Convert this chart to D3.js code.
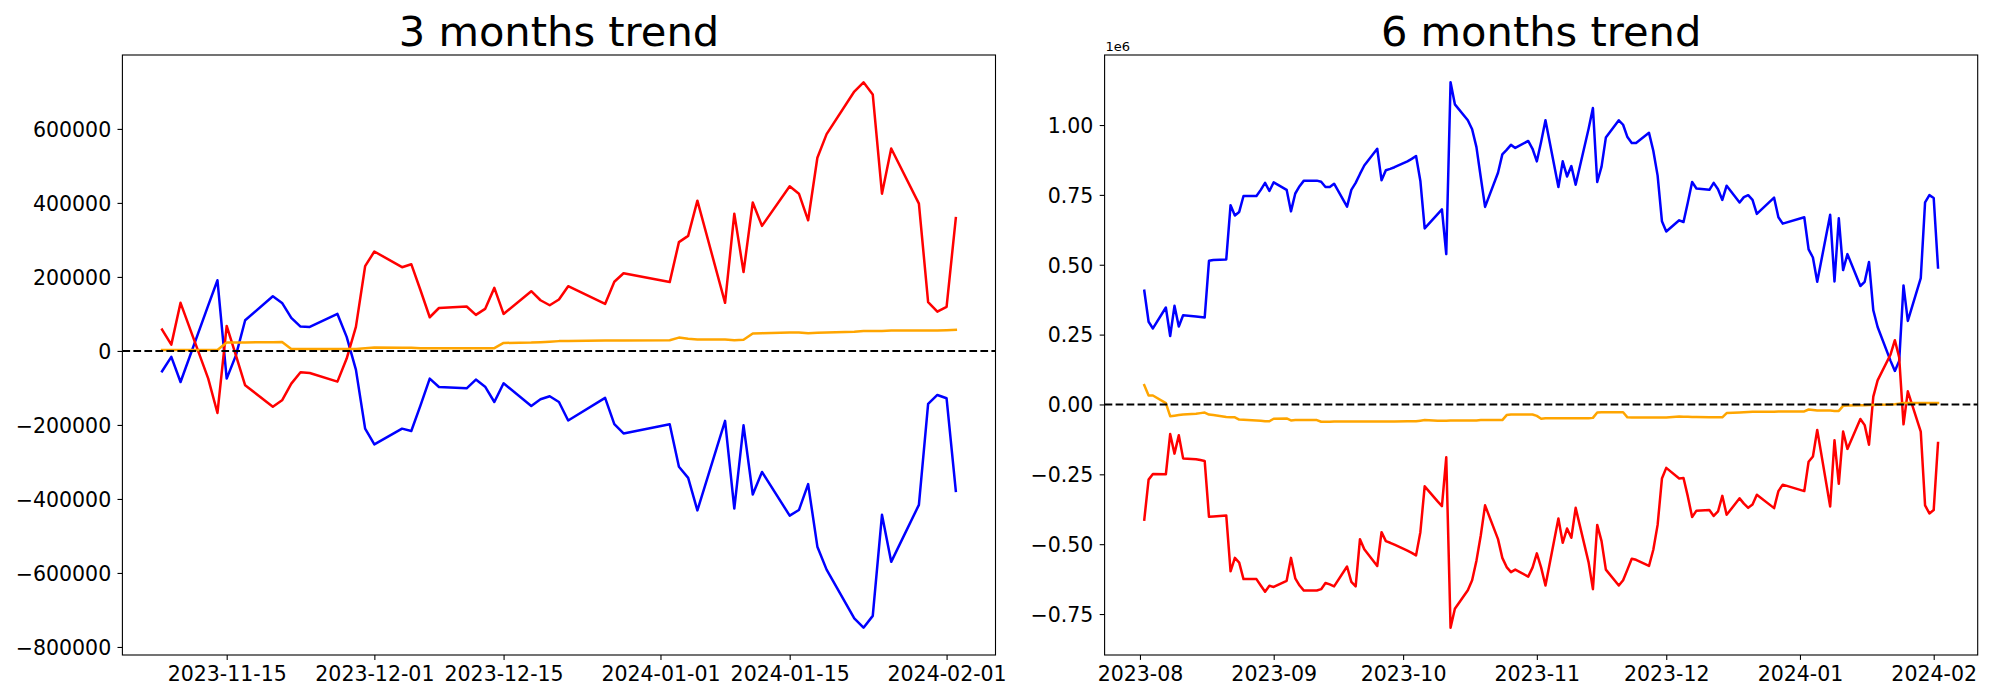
<!DOCTYPE html>
<html>
<head>
<meta charset="utf-8">
<script src="https://cdn.jsdelivr.net/npm/d3@7"></script>
<style>
body { margin: 0; background: #fff; }
svg { display: block; }
text { font-family: "DejaVu Sans", sans-serif; fill: #000; }
</style>
</head>
<body>
<svg id="chart" width="2000" height="700"></svg>
<script>
// ---------- 3 months data ----------
const dates3m = [
  "2023-11-08","2023-11-09","2023-11-10","2023-11-13","2023-11-14","2023-11-15","2023-11-16","2023-11-17",
  "2023-11-20","2023-11-21","2023-11-22","2023-11-23","2023-11-24","2023-11-27","2023-11-28","2023-11-29","2023-11-30",
  "2023-12-01","2023-12-04","2023-12-05","2023-12-06","2023-12-07","2023-12-08","2023-12-11","2023-12-12","2023-12-13",
  "2023-12-14","2023-12-15","2023-12-18","2023-12-19","2023-12-20","2023-12-21","2023-12-22","2023-12-26","2023-12-27","2023-12-28",
  "2024-01-02","2024-01-03","2024-01-04","2024-01-05","2024-01-08","2024-01-09","2024-01-10","2024-01-11","2024-01-12",
  "2024-01-15","2024-01-16","2024-01-17","2024-01-18","2024-01-19","2024-01-22","2024-01-23","2024-01-24","2024-01-25","2024-01-26",
  "2024-01-29","2024-01-30","2024-01-31","2024-02-01","2024-02-02"
];
const blue3m = [
  -55000,-16200,-83900,123000,191000,-74800,-12000,83000,147900,129800,89300,65800,65000,100000,37900,-50500,-210000,
  -252500,-210000,-216400,-147000,-74800,-97400,-101000,-77500,-96500,-138000,-87500,-148800,-130700,-122600,-138000,-188000,-127000,-198000,-223000,
  -198000,-313000,-343000,-431000,-189000,-426000,-201000,-388000,-327000,-445000,-430000,-360000,-529000,-591000,-723000,-748000,-716000,-443000,-570000,-416000,-143000,-119000,
  -128000,-378000
];
const red3m = [
  57700,17000,130000,-74800,-167700,67600,-12000,-92900,-150600,-133500,-88400,-57700,-59500,-83000,-20700,65000,229000,
  268700,226300,234400,164000,91000,116000,120000,97400,113600,170400,100000,161400,137000,123500,139000,175000,127000,187000,210000,
  186000,294000,311000,406000,130000,371000,213000,401000,338000,445000,425000,353000,522000,586000,701000,726000,693000,425000,547000,398000,132000,106000,
  119000,359000
];
const orange3m = [
  2700,2700,2700,2700,2700,22500,23000,23000,23500,24300,5400,5000,5000,5000,5000,5000,7000,
  9000,8500,8500,7000,7000,7500,7500,7500,7500,7500,21600,22500,23500,25000,26500,27000,28000,28000,28000,
  29000,36000,33000,31000,31000,29000,30000,47000,48000,50000,50000,48000,49000,50000,52000,54000,54000,54000,55000,55000,55000,55000,
  56000,57000
];
const xTicks3m = ["2023-11-15","2023-12-01","2023-12-15","2024-01-01","2024-01-15","2024-02-01"];
const yTicks3m = [-800000,-600000,-400000,-200000,0,200000,400000,600000];

// ---------- 6 months data ----------
const dates6m = [
  "2023-08-02","2023-08-03","2023-08-04","2023-08-07","2023-08-08","2023-08-09","2023-08-10","2023-08-11","2023-08-14","2023-08-15","2023-08-16",
  "2023-08-17","2023-08-18","2023-08-21","2023-08-22","2023-08-23","2023-08-24","2023-08-25","2023-08-28","2023-08-29","2023-08-30","2023-08-31",
  "2023-09-01","2023-09-04","2023-09-05","2023-09-06","2023-09-07","2023-09-08","2023-09-11","2023-09-12","2023-09-13","2023-09-14","2023-09-15",
  "2023-09-18","2023-09-19","2023-09-20","2023-09-21","2023-09-22","2023-09-25","2023-09-26","2023-09-27","2023-09-28","2023-09-29",
  "2023-10-02","2023-10-03","2023-10-04","2023-10-05","2023-10-06","2023-10-09","2023-10-10","2023-10-11","2023-10-12","2023-10-13","2023-10-16",
  "2023-10-17","2023-10-18","2023-10-19","2023-10-20","2023-10-23","2023-10-24","2023-10-25","2023-10-26","2023-10-27","2023-10-30","2023-10-31",
  "2023-11-01","2023-11-02","2023-11-03","2023-11-06","2023-11-07","2023-11-08","2023-11-09","2023-11-10","2023-11-13","2023-11-14","2023-11-15",
  "2023-11-16","2023-11-17","2023-11-20","2023-11-21","2023-11-22","2023-11-23","2023-11-24","2023-11-27","2023-11-28","2023-11-29","2023-11-30",
  "2023-12-01","2023-12-04","2023-12-05","2023-12-06","2023-12-07","2023-12-08","2023-12-11","2023-12-12","2023-12-13","2023-12-14","2023-12-15",
  "2023-12-18","2023-12-19","2023-12-20","2023-12-21","2023-12-22","2023-12-26","2023-12-27","2023-12-28",
  "2024-01-02","2024-01-03","2024-01-04","2024-01-05","2024-01-08","2024-01-09","2024-01-10","2024-01-11","2024-01-12","2024-01-15","2024-01-16",
  "2024-01-17","2024-01-18","2024-01-19","2024-01-22","2024-01-23","2024-01-24","2024-01-25","2024-01-26","2024-01-29","2024-01-30","2024-01-31",
  "2024-02-01","2024-02-02"
];
const blue6m = [
  407000,296000,272000,347000,245000,353000,279000,319000,315000,313000,311000,514000,517000,519000,713000,676000,689000,746000,746000,768000,793000,764000,
  795000,768000,691000,755000,781000,801000,801000,797000,778000,778000,790000,708000,768000,793000,825000,855000,915000,802000,838000,843000,849000,
  870000,879000,889000,800000,630000,681000,698000,538000,1153000,1074000,1017000,985000,921000,813000,707000,829000,895000,911000,929000,918000,943000,915000,
  870000,940000,1017000,778000,870000,816000,853000,786000,987000,1061000,796000,851000,955000,1017000,1001000,957000,936000,936000,972000,908000,819000,656000,
  619000,659000,653000,723000,796000,773000,768000,793000,770000,732000,783000,723000,742000,749000,732000,682000,740000,670000,647000,
  670000,555000,526000,439000,679000,440000,666000,481000,538000,424000,439000,510000,337000,277000,156000,120000,156000,426000,299000,452000,723000,749000,
  739000,490000
];
const red6m = [
  -412000,-269000,-249000,-250000,-106000,-176000,-110000,-193000,-196000,-199000,-202000,-402000,-401000,-397000,-597000,-549000,-566000,-625000,-625000,-648000,-670000,-649000,
  -653000,-631000,-549000,-622000,-648000,-666000,-666000,-661000,-639000,-644000,-651000,-580000,-635000,-651000,-482000,-518000,-578000,-457000,-489000,-495000,-502000,
  -523000,-531000,-540000,-457000,-293000,-347000,-364000,-189000,-799000,-731000,-665000,-629000,-559000,-469000,-361000,-482000,-549000,-582000,-600000,-591000,-616000,-584000,
  -533000,-584000,-648000,-408000,-495000,-444000,-477000,-370000,-565000,-661000,-431000,-489000,-591000,-648000,-629000,-591000,-552000,-556000,-578000,-520000,-431000,-265000,
  -227000,-265000,-263000,-329000,-403000,-380000,-378000,-399000,-383000,-327000,-395000,-336000,-355000,-370000,-358000,-323000,-371000,-310000,-287000,
  -310000,-205000,-186000,-91000,-365000,-128000,-284000,-97000,-159000,-52000,-74000,-144000,28000,86000,179000,230000,168000,-71000,47000,-97000,-361000,-390000,
  -378000,-138000
];
const orange6m = [
  69000,32000,32000,5000,-42000,-40000,-38000,-36000,-33000,-31000,-29000,-36000,-38000,-45000,-46000,-46000,-54000,-55000,-57000,-58000,-60000,-60000,
  -51000,-50000,-57000,-56000,-56000,-56000,-56000,-62000,-62000,-62000,-61000,-61000,-61000,-61000,-61000,-61000,-61000,-61000,-61000,-61000,-61000,
  -60000,-60000,-60000,-58000,-56000,-58000,-58000,-58000,-57000,-57000,-57000,-57000,-57000,-56000,-56000,-56000,-56000,-38000,-36000,-36000,-36000,-36000,
  -41000,-51000,-49000,-49000,-49000,-49000,-49000,-49000,-49000,-48000,-29000,-28000,-28000,-28000,-28000,-46000,-47000,-47000,-47000,-47000,-47000,-47000,
  -47000,-43000,-44000,-44000,-45000,-45000,-46000,-46000,-46000,-46000,-31000,-29000,-28000,-27000,-26000,-26000,-26000,-25000,-25000,
  -25000,-18000,-20000,-22000,-22000,-23000,-23000,-5000,-4000,-3000,-3000,-2000,-2000,-1000,0,1000,3000,5000,5000,5000,5000,5000,
  5000,5000
];
const xTicks6m = ["2023-08-01","2023-09-01","2023-10-01","2023-11-01","2023-12-01","2024-01-01","2024-02-01"];
const yTicks6m = [-750000,-500000,-250000,0,250000,500000,750000,1000000];

const seriesColors = { blue: "#0000ff", red: "#ff0000", orange: "#ffa500" };

// ---------- drawing ----------
const parse = d3.utcParse("%Y-%m-%d");
const svg = d3.select("#chart");
const minus = s => s.replace("-", "\u2212");

function drawPanel(o) {
  const g = svg.append("g");
  const dts = o.dates.map(parse);
  const t0 = +dts[0], t1 = +dts[dts.length - 1];
  const xp = (t1 - t0) * 0.05;
  const x = d3.scaleUtc().domain([new Date(t0 - xp), new Date(t1 + xp)]).range([o.left, o.right]);
  const all = o.series.flatMap(s => s.values);
  const lo = d3.min(all), hi = d3.max(all);
  const yp = (hi - lo) * 0.05;
  const y = d3.scaleLinear().domain([lo - yp, hi + yp]).range([o.bottom, o.top]);

  // lines
  const line = d3.line().x((d, i) => x(dts[i])).y(d => y(d));
  o.series.forEach(s => {
    g.append("path").datum(s.values)
      .attr("d", line)
      .attr("fill", "none")
      .attr("stroke", s.color)
      .attr("stroke-width", 2.5)
      .attr("stroke-linejoin", "round")
      .attr("stroke-linecap", "square");
  });

  // zero dashed line
  g.append("line")
    .attr("x1", o.left).attr("x2", o.right)
    .attr("y1", y(0)).attr("y2", y(0))
    .attr("stroke", "#000").attr("stroke-width", 2.1)
    .attr("stroke-dasharray", "7.7,3.3");

  // axes
  const xa = g.append("g").attr("transform", `translate(0,${o.bottom})`)
    .call(d3.axisBottom(x).tickValues(o.xTicks.map(parse)).tickFormat(o.xFmt)
      .tickSize(4.9).tickPadding(6.3).tickSizeOuter(0));
  const ya = g.append("g").attr("transform", `translate(${o.left},0)`)
    .call(d3.axisLeft(y).tickValues(o.yTicks).tickFormat(o.yFmt)
      .tickSize(4.9).tickPadding(6.3).tickSizeOuter(0));
  [xa, ya].forEach(a => {
    a.select(".domain").remove();
    a.selectAll(".tick line").attr("stroke", "#000").attr("stroke-width", 1.1);
    a.selectAll(".tick text").attr("font-size", "20.5px")
      .attr("font-family", "DejaVu Sans, sans-serif").attr("fill", "#000");
  });
  ya.selectAll(".tick text").attr("dy", "0.36em");

  // frame
  g.append("rect")
    .attr("x", o.left).attr("y", o.top)
    .attr("width", o.right - o.left).attr("height", o.bottom - o.top)
    .attr("fill", "none").attr("stroke", "#000").attr("stroke-width", 1.1);

  // title
  g.append("text")
    .attr("x", (o.left + o.right) / 2).attr("y", 46)
    .attr("text-anchor", "middle").attr("font-size", "41.6px")
    .text(o.title);

  if (o.offsetText) {
    g.append("text").attr("x", o.left + 1).attr("y", 51)
      .attr("font-size", "13px").text(o.offsetText);
  }
}

drawPanel({
  left: 122.4, right: 995.5, top: 55, bottom: 655,
  dates: dates3m,
  series: [
    { values: blue3m, color: seriesColors.blue },
    { values: red3m, color: seriesColors.red },
    { values: orange3m, color: seriesColors.orange }
  ],
  xTicks: xTicks3m, xFmt: d3.utcFormat("%Y-%m-%d"),
  yTicks: yTicks3m, yFmt: v => minus(String(v)),
  title: "3 months trend"
});

drawPanel({
  left: 1104.6, right: 1977.7, top: 55, bottom: 655,
  dates: dates6m,
  series: [
    { values: blue6m, color: seriesColors.blue },
    { values: red6m, color: seriesColors.red },
    { values: orange6m, color: seriesColors.orange }
  ],
  xTicks: xTicks6m, xFmt: d3.utcFormat("%Y-%m"),
  yTicks: yTicks6m, yFmt: v => minus((v / 1e6).toFixed(2)),
  title: "6 months trend",
  offsetText: "1e6"
});
</script>
</body>
</html>
